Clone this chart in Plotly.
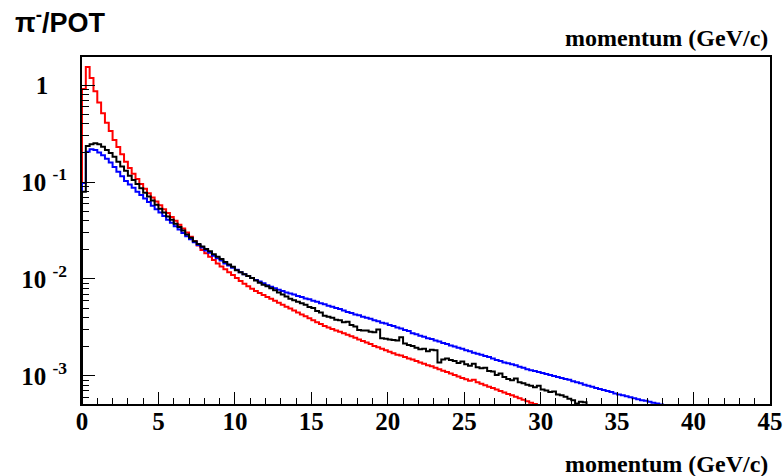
import numpy as np
import plotly.graph_objects as go

# ---- data (log10 of pi-/POT per 0.25 GeV/c bin, starting at 0) ----
BIN_WIDTH = 0.25

RED_LOG10 = [
    -0.04, 0.186, 0.072, -0.065, -0.18, -0.29, -0.39, -0.475, -0.567, -0.64,
    -0.715, -0.79, -0.855, -0.915, -0.97, -1.02, -1.07, -1.115, -1.16, -1.20,
    -1.24, -1.28, -1.32, -1.36, -1.40, -1.44, -1.48, -1.52, -1.565, -1.61,
    -1.655, -1.70, -1.735, -1.77, -1.805, -1.84, -1.87, -1.90, -1.93, -1.96,
    -1.99, -2.02, -2.05, -2.075, -2.10, -2.125, -2.145, -2.165, -2.185, -2.205,
    -2.225, -2.245, -2.265, -2.285, -2.305, -2.325, -2.345, -2.365, -2.385, -2.405,
    -2.425, -2.445, -2.465, -2.485, -2.50, -2.515, -2.53, -2.545, -2.56, -2.575,
    -2.59, -2.605, -2.625, -2.64, -2.655, -2.67, -2.69, -2.705, -2.72, -2.735,
    -2.75, -2.765, -2.78, -2.79, -2.805, -2.82, -2.83, -2.845, -2.86, -2.875,
    -2.89, -2.90, -2.915, -2.93, -2.945, -2.96, -2.975, -2.99, -3.005, -3.02,
    -3.035, -3.05, -3.04, -3.065, -3.08, -3.095, -3.11, -3.125, -3.14, -3.155,
    -3.17, -3.185, -3.20, -3.215, -3.23, -3.245, -3.26, -3.275, -3.29, -3.305,
    -3.32, -3.34,
]

BLACK_LOG10 = [
    -1.10, -0.629, -0.611, -0.601, -0.611, -0.636, -0.67, -0.70, -0.74, -0.79,
    -0.84, -0.885, -0.935, -0.98, -1.02, -1.065, -1.11, -1.15, -1.19, -1.235,
    -1.275, -1.315, -1.355, -1.39, -1.43, -1.465, -1.50, -1.54, -1.575, -1.61,
    -1.64, -1.665, -1.69, -1.715, -1.745, -1.77, -1.795, -1.825, -1.85, -1.875,
    -1.91, -1.93, -1.95, -1.97, -1.99, -2.015, -2.04, -2.06, -2.075, -2.095,
    -2.115, -2.14, -2.16, -2.18, -2.205, -2.22, -2.235, -2.25, -2.265, -2.29,
    -2.30, -2.33, -2.345, -2.38, -2.39, -2.40, -2.42, -2.425, -2.445, -2.44,
    -2.475, -2.49, -2.525, -2.53, -2.53, -2.545, -2.55, -2.52, -2.61, -2.615,
    -2.625, -2.63, -2.635, -2.60, -2.665, -2.68, -2.69, -2.71, -2.725, -2.72,
    -2.745, -2.73, -2.735, -2.86, -2.83, -2.82, -2.835, -2.845, -2.865, -2.85,
    -2.88, -2.895, -2.875, -2.91, -2.92, -2.915, -2.95, -2.955, -2.99, -2.975,
    -3.01, -3.03, -3.045, -3.025, -3.065, -3.075, -3.09, -3.10, -3.115, -3.10,
    -3.14, -3.15, -3.165, -3.16, -3.19, -3.20, -3.215, -3.235, -3.25, -3.285,
    -3.265, -3.27,
]

BLUE_LOG10 = [
    -1.01, -0.688, -0.663, -0.67, -0.695, -0.725, -0.76, -0.80, -0.845, -0.895,
    -0.94, -0.99, -1.025, -1.06, -1.10, -1.135, -1.17, -1.205, -1.245, -1.28,
    -1.315, -1.35, -1.39, -1.42, -1.455, -1.49, -1.525, -1.56, -1.59, -1.62,
    -1.65, -1.675, -1.705, -1.73, -1.76, -1.785, -1.81, -1.84, -1.86, -1.885,
    -1.905, -1.93, -1.95, -1.97, -1.99, -2.01, -2.025, -2.045, -2.065, -2.08,
    -2.095, -2.11, -2.125, -2.14, -2.15, -2.16, -2.175, -2.185, -2.20, -2.21,
    -2.225, -2.235, -2.25, -2.26, -2.275, -2.285, -2.30, -2.31, -2.325, -2.34,
    -2.35, -2.365, -2.375, -2.39, -2.40, -2.41, -2.425, -2.435, -2.45, -2.46,
    -2.475, -2.485, -2.50, -2.51, -2.525, -2.535, -2.56, -2.57, -2.585, -2.595,
    -2.61, -2.62, -2.635, -2.645, -2.66, -2.67, -2.685, -2.695, -2.71, -2.72,
    -2.735, -2.745, -2.76, -2.77, -2.78, -2.795, -2.805, -2.82, -2.835, -2.845,
    -2.86, -2.87, -2.88, -2.89, -2.905, -2.915, -2.93, -2.94, -2.95, -2.96,
    -2.97, -2.98, -2.99, -3.00, -3.01, -3.02, -3.03, -3.04, -3.055, -3.065,
    -3.075, -3.09, -3.10, -3.11, -3.125, -3.135, -3.145, -3.155, -3.165, -3.18,
    -3.19, -3.20, -3.21, -3.22, -3.23, -3.24, -3.25, -3.255, -3.265, -3.275,
    -3.285, -3.295, -3.31, -3.32,
]

X_TICKS = [0, 5, 10, 15, 20, 25, 30, 35, 40, 45]
Y_TICK_VALS = [1e-3, 1e-2, 1e-1, 1]
Y_TICK_TEXT = ["10&nbsp;<sup>-3</sup>", "10&nbsp;<sup>-2</sup>", "10&nbsp;<sup>-1</sup>",
               "1&nbsp;&nbsp;&nbsp;"]
Y_MINOR_VALS = [d * 10.0 ** e for e in (-4, -3, -2, -1, 0) for d in range(2, 10)]

X_RANGE = [0, 45]
Y_RANGE_LOG = [-3.289, 0.289]

SERIES = [("red", RED_LOG10, "#ff0000"), ("blue", BLUE_LOG10, "#0000ff"), ("black", BLACK_LOG10, "#000000")]


def step_trace(name, logs, color):
    vals = 10.0 ** np.array(logs)
    n = len(vals)
    edges = np.arange(n + 1) * BIN_WIDTH
    floor = 10.0 ** (Y_RANGE_LOG[0] - 0.3)
    xs = [0.0] + list(edges[:-1]) + [edges[-1], edges[-1]]
    ys = [floor] + list(vals) + [vals[-1], floor]
    return go.Scatter(x=xs, y=ys, mode="lines", name=name,
                      line=dict(color=color, width=2, shape="hv"),
                      hoverinfo="skip", showlegend=False)


fig = go.Figure()
for name, logs, color in SERIES:
    fig.add_trace(step_trace(name, logs, color))

serif_bold = dict(family="Liberation Serif", size=25, color="black", weight="bold")

fig.update_layout(
    width=783, height=476,
    margin=dict(l=82, r=13, t=57, b=72, autoexpand=False),
    paper_bgcolor="white", plot_bgcolor="white",
    xaxis=dict(
        range=X_RANGE, showline=True, mirror=True, linecolor="black", linewidth=2,
        showgrid=False, zeroline=False, automargin=False,
        tickmode="array", tickvals=X_TICKS, ticks="inside", ticklen=12, tickwidth=1,
        tickcolor="black", tickfont=serif_bold, ticklabelstandoff=-6,
        minor=dict(ticks="inside", ticklen=6, tickwidth=1, tickcolor="black", dtick=1, showgrid=False),
    ),
    yaxis=dict(
        type="log", range=Y_RANGE_LOG, showline=True, mirror=True, linecolor="black", linewidth=2,
        showgrid=False, zeroline=False, automargin=False,
        tickmode="array", tickvals=Y_TICK_VALS, ticktext=Y_TICK_TEXT,
        ticks="inside", ticklen=13, tickwidth=1, tickcolor="black",
        tickfont=serif_bold, ticklabelstandoff=8,
        minor=dict(ticks="inside", ticklen=7, tickwidth=1, tickcolor="black",
                   tickmode="array", tickvals=Y_MINOR_VALS, showgrid=False),
    ),
    annotations=[
        dict(text="π<sup>-</sup>/POT", xref="paper", yref="paper", x=-0.1003, y=1.104,
             xanchor="left", yanchor="middle", showarrow=False,
             font=dict(family="Liberation Sans", size=27, color="black", weight="bold")),
        dict(text="momentum (GeV/c)", xref="paper", yref="paper", x=1.0, y=1.056,
             xanchor="right", yanchor="middle", showarrow=False,
             font=dict(family="Liberation Serif", size=24, color="black", weight="bold")),
        dict(text="momentum (GeV/c)", xref="paper", yref="paper", x=1.0, y=-0.172,
             xanchor="right", yanchor="middle", showarrow=False,
             font=dict(family="Liberation Serif", size=24, color="black", weight="bold")),
    ],
)

fig.write_html("out.html", config={"displayModeBar": False},
               post_script="document.body.style.margin='0px';document.body.style.padding='0px';")
